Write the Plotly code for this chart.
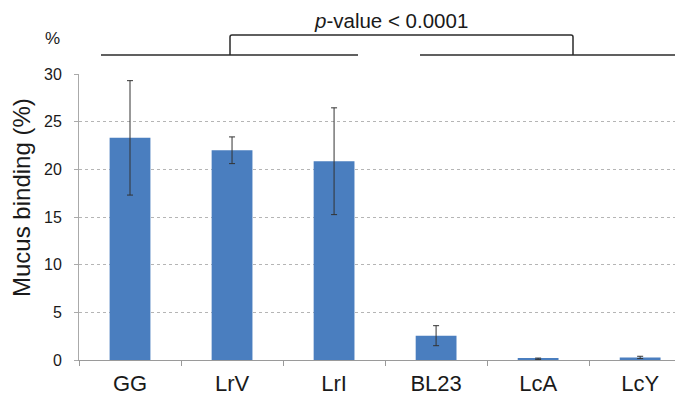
import plotly.graph_objects as go

categories = ["GG", "LrV", "LrI", "BL23", "LcA", "LcY"]
binding = [23.3, 22.0, 20.85, 2.55, 0.12, 0.27]
sd = [6.0, 1.4, 5.6, 1.05, 0.08, 0.12]
y_ticks = [0, 5, 10, 15, 20, 25, 30]

OFF = 8  # default page body margin
W, H = 683 - OFF, 401 - OFF
# plot area in page pixels
L, R, T, B = 79, 683, 74, 360


def px(x):
    return (x - L) / (R - L)


def py(y):
    return (B - y) / (B - T)


fig = go.Figure()
fig.add_trace(go.Bar(
    x=categories, y=binding, width=0.4,
    marker=dict(color="#4a7ebf", line=dict(width=0)),
    error_y=dict(type="data", array=sd, visible=True, color="#333333",
                 thickness=1, width=3),
))

font = "Liberation Sans, Arial, sans-serif"
line_col = "#2b2b2b"
shapes = [
    dict(type="line", xref="paper", yref="paper", x0=px(101), x1=px(358), y0=py(55), y1=py(55),
         line=dict(color=line_col, width=1.5)),
    dict(type="line", xref="paper", yref="paper", x0=px(420), x1=px(677), y0=py(55), y1=py(55),
         line=dict(color=line_col, width=1.5)),
    dict(type="path", xref="paper", yref="paper",
         path=f"M {px(230)},{py(55)} L {px(230)},{py(37)} Q {px(230)},{py(35)} {px(232)},{py(35)} "
              f"L {px(571)},{py(35)} Q {px(573)},{py(35)} {px(573)},{py(37)} L {px(573)},{py(55)}",
         line=dict(color=line_col, width=1.5)),
]

annotations = [
    dict(xref="paper", yref="paper", x=px(391), y=py(21), text="<i>p</i>-value &lt; 0.0001",
         showarrow=False, font=dict(size=20.5, color="#1a1a1a", family=font),
         xanchor="center", yanchor="middle", borderpad=0),
    dict(xref="paper", yref="paper", x=px(52), y=py(38), text="%",
         showarrow=False, font=dict(size=17, color="#1a1a1a", family=font),
         xanchor="center", yanchor="middle"),
    dict(xref="paper", yref="paper", x=px(21), y=py(198), text="Mucus binding (%)",
         textangle=-90, showarrow=False, font=dict(size=24, color="#1a1a1a", family=font),
         xanchor="center", yanchor="middle", borderpad=0),
]

fig.update_layout(
    width=W, height=H,
    margin=dict(l=L - OFF, r=683 - R, t=T - OFF, b=401 - B),
    plot_bgcolor="white", paper_bgcolor="white",
    showlegend=False,
    font=dict(family=font, color="#1a1a1a"),
    shapes=shapes,
    annotations=annotations,
    xaxis=dict(
        range=[-0.5, 5.42], tickson="boundaries", ticks="outside", ticklen=5,
        tickcolor="#9a9a9a", showline=True, linecolor="#9a9a9a", linewidth=1,
        showgrid=False, tickfont=dict(size=22, color="#1a1a1a"), ticklabelstandoff=4,
    ),
    yaxis=dict(
        range=[0, 30], tickvals=y_ticks, ticks="outside", ticklen=4, tickcolor="#aaaaaa",
        showline=True, linecolor="#aaaaaa", linewidth=1,
        showgrid=True, gridcolor="#b5b5b5", griddash="dot", gridwidth=1,
        zeroline=False, tickfont=dict(size=16, color="#1a1a1a"), ticklabelstandoff=9,
    ),
)

fig.write_html("out.html")
